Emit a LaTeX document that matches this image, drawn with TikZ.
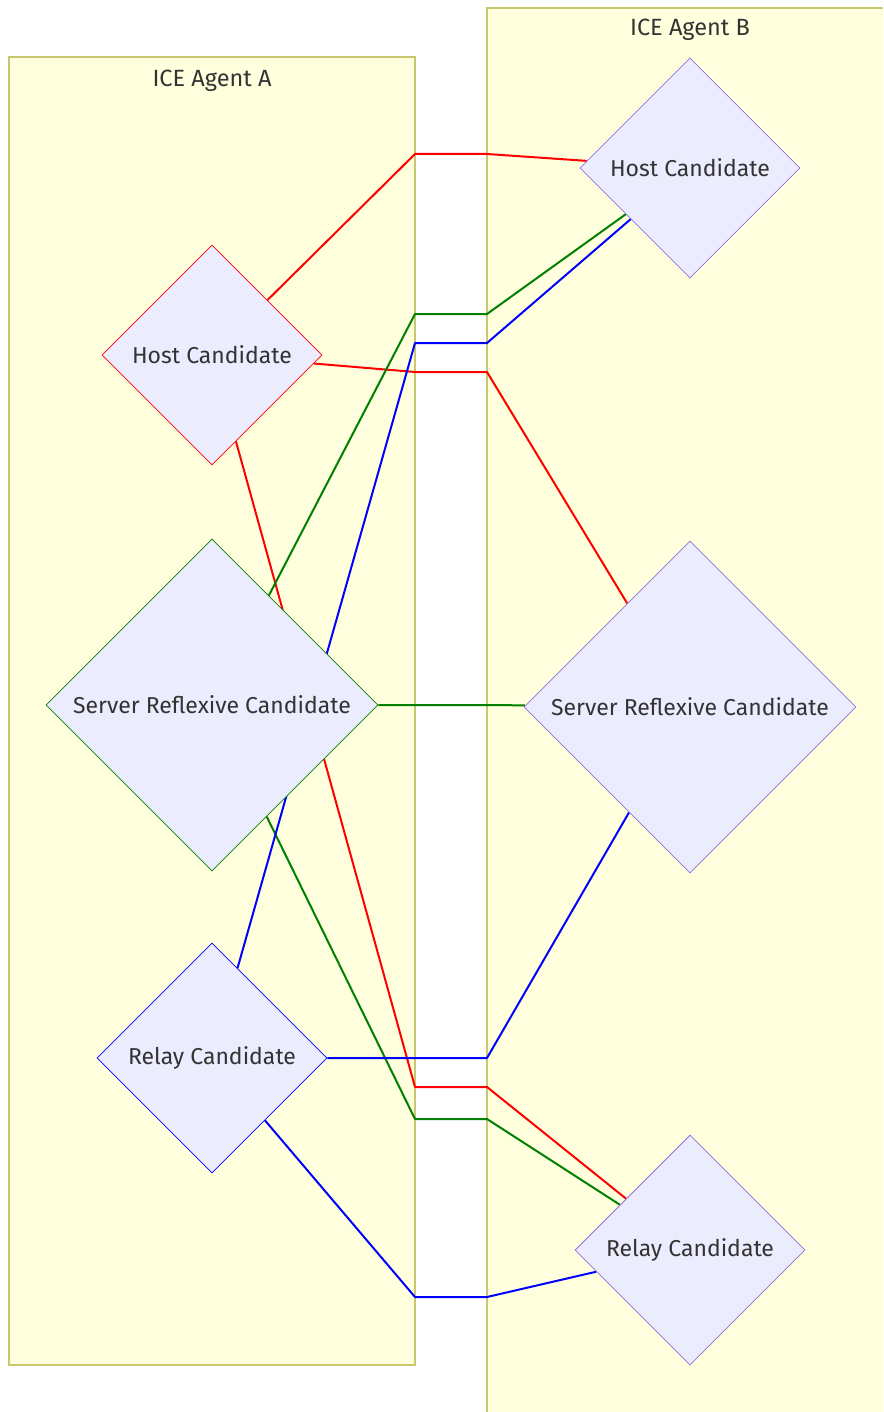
\documentclass[tikz,border=0pt]{standalone}
\usepackage{fontspec}
\setmainfont{Fira Sans}
\usetikzlibrary{shapes.geometric}
\definecolor{clfill}{HTML}{FFFFDE}
\definecolor{clline}{HTML}{C8C870}
\definecolor{ndfill}{HTML}{ECECFF}
\definecolor{ndline}{HTML}{9370DB}
\definecolor{txtgray}{HTML}{333333}
\definecolor{grn}{HTML}{008000}
\pgfdeclarelayer{back}
\pgfdeclarelayer{wires}
\pgfsetlayers{back,wires,main}
\tikzset{
	cand/.style={diamond, aspect=1, draw=ndline, fill=ndfill, inner sep=0pt, line width=0.8pt, text=txtgray, font=\fontsize{23}{27}\selectfont},
	cluster/.style={draw=clline, fill=clfill, line width=1.5pt, inner sep=0pt},
	title/.style={text=txtgray, font=\fontsize{23.5}{27}\selectfont},
	wire/.style={line width=2pt, line join=round}
}

\begin{document}
\begin{tikzpicture}[x=1pt, y=-1pt]
				\useasboundingbox (0,0) rectangle (883,1412);
				\begin{pgfonlayer}{back}
				\node[cluster, minimum width=406pt, minimum height=1308pt] (AgA) at (212,711) {};
				\fill[clfill] (487,8) rectangle (883,1412);
				\draw[clline, line width=1.5pt] (487,1412) -- (487,8) -- (883,8);
				\end{pgfonlayer}
				\node[title] (tA) at (212,81) {ICE Agent A};
				\node[title] (tB) at (690,30) {ICE Agent B};
				% agent A
				\node[cand, draw=red, minimum width=220pt, minimum height=220pt] (HA) at (212,355) {Host Candidate};
				\node[cand, draw=grn, minimum width=332pt, minimum height=332pt] (SA) at (212,705) {Server Reflexive Candidate};
				\node[cand, draw=blue, minimum width=230pt, minimum height=230pt] (RA) at (212,1058) {Relay Candidate};
				% agent B
				\node[cand, minimum width=220pt, minimum height=220pt] (HB) at (690,168) {Host Candidate};
				\node[cand, minimum width=332pt, minimum height=332pt] (SB) at (690,707) {Server Reflexive Candidate};
				\node[cand, minimum width=230pt, minimum height=230pt] (RB) at (690,1250) {Relay Candidate};
				\begin{pgfonlayer}{wires}
				\draw[wire, red] (HA) -- (415,154) -- (487,154) -- (HB);
				\draw[wire, red] (HA) -- (415,372) -- (487,372) -- (SB);
				\draw[wire, red] (HA) -- (415,1087) -- (487,1087) -- (RB);
				\draw[wire, grn] (SA) -- (415,314) -- (487,314) -- (HB);
				\draw[wire, grn] (SA) -- (415,705) -- (487,705) -- (SB);
				\draw[wire, grn] (SA) -- (415,1119) -- (487,1119) -- (RB);
				\draw[wire, blue] (RA) -- (415,343) -- (487,343) -- (HB);
				\draw[wire, blue] (RA) -- (415,1058) -- (487,1058) -- (SB);
				\draw[wire, blue] (RA) -- (415,1297) -- (487,1297) -- (RB);
				\end{pgfonlayer}
			\end{tikzpicture}
\end{document}
